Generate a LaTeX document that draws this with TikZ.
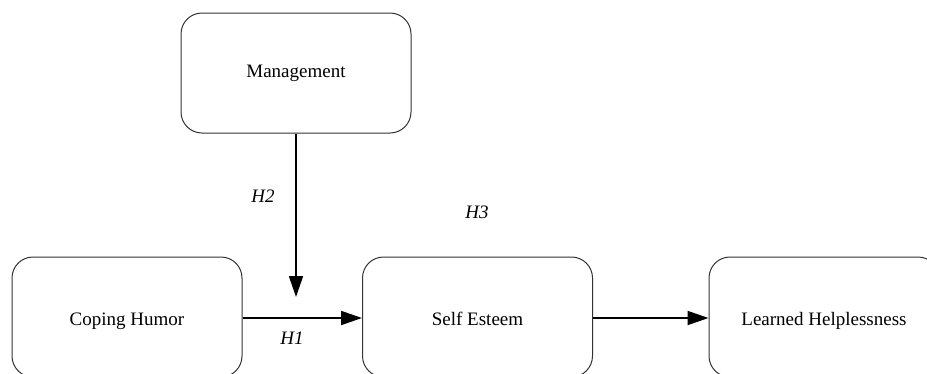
\documentclass[tikz,border=0pt]{standalone}
\usepackage{fontspec}
\setmainfont{Liberation Serif}
\usetikzlibrary{arrows.meta}
\newcommand{\lowtxt}[1]{\raisebox{-8pt}[0pt][0pt]{#1}}
\begin{document}
\begin{tikzpicture}[x=1pt,y=-1pt,
  box/.style={draw=black!80, line width=1pt, rounded corners=21pt, minimum width=230pt, minimum height=120pt, inner sep=0pt, font=\fontsize{19}{22}\selectfont},
  arr/.style={line width=1.8pt, -{Triangle[length=21pt,width=14pt]}},
  hlab/.style={font=\fontsize{19}{22}\selectfont\itshape}]
\useasboundingbox (0,0) rectangle (927,373);
\begin{scope}
\clip (0,0) rectangle (927,373);
\node[box] (mgmt) at (296,73) {Management};
\node[box] (cope) at (127,317) {\lowtxt{Coping Humor}};
\node[box] (self) at (477.5,317) {\lowtxt{Self Esteem}};
\node[box] (lh) at (824,317) {\lowtxt{Learned Helplessness}};
\coordinate (mid) at (296,297);
\draw[arr] (mgmt.south -| mid) -- (mid);
\draw[arr] (cope.east |- 0,318) -- (self.west |- 0,318);
\draw[arr] (self.east |- 0,318) -- (lh.west |- 0,318);
\node[hlab] (h1) at (292,338) {H1};
\node[hlab] (h2) at (263,196) {H2};
\node[hlab] (h3) at (477,212) {H3};
\end{scope}
\end{tikzpicture}
\end{document}
